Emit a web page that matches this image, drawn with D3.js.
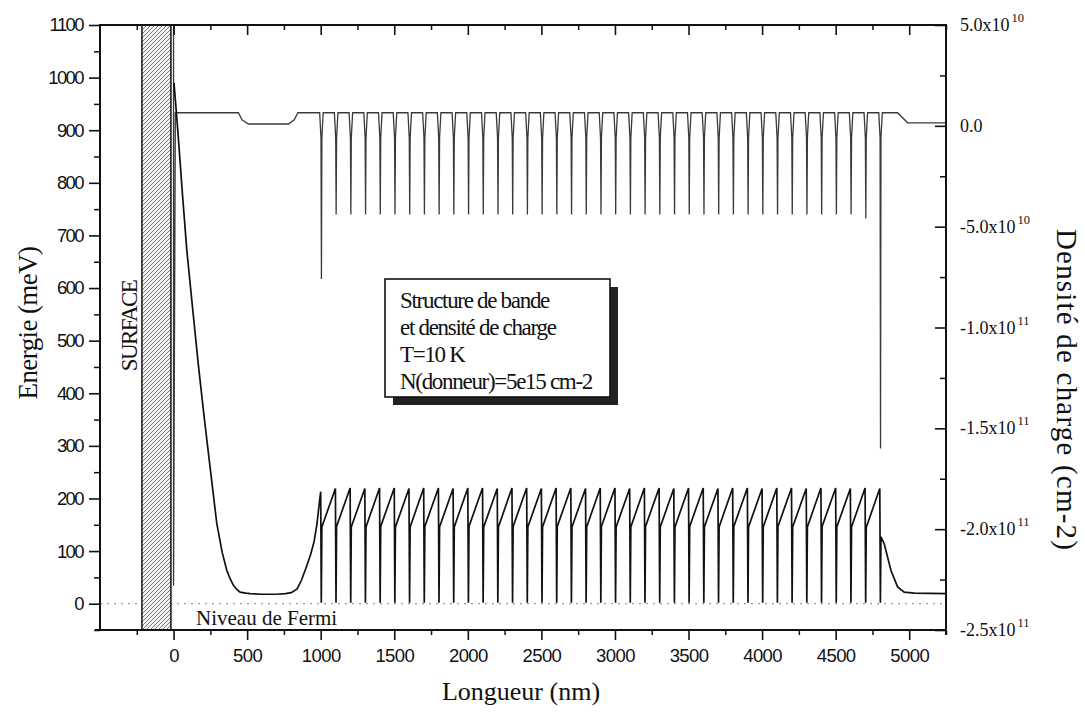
<!DOCTYPE html>
<html><head><meta charset="utf-8">
<script src="https://cdn.jsdelivr.net/npm/d3@7"></script>
<style>
body{margin:0;background:#fff;}
svg{display:block;}
</style>
</head><body>
<svg id="chart" width="1085" height="712"></svg>
<script>
// ---------------- DATA ----------------
// Band structure: surface depletion region before the superlattice
const bandLeftX = [3, 30, 60, 90, 130, 170, 210, 248, 294, 330, 362, 385, 407, 430, 452, 490, 520, 600, 700, 760, 800, 840, 870, 900, 930, 955, 975, 990];
const bandLeftE = [990, 895, 780, 672, 560, 450, 350, 260, 152, 98, 63, 47, 35, 27, 22, 20, 19, 18, 18, 19, 21, 28, 45, 68, 92, 118, 152, 190];
// Superlattice wells (nm) and band energies (meV)
const wellPos = [1005,1105,1205,1305,1405,1505,1605,1705,1805,1905,2005,2105,2205,2305,2405,2505,2605,2705,2805,2905,3005,3105,3205,3305,3405,3505,3605,3705,3805,3905,4005,4105,4205,4305,4405,4505,4605,4705,4805];
const wellPeak = [213,219,220,219,220,220,219,220,220,219,220,220,219,220,220,219,220,220,219,220,220,219,220,220,219,220,220,219,220,220,219,220,220,219,220,220,219,220,219];
const wellShoulder = [146,147,146,146,147,146,146,147,146,146,147,146,146,147,146,146,147,146,146,147,146,146,147,146,146,147,146,146,147,146,146,147,146,146,147,146,146,145,127];
const wellBottom = 2;
// Band after the superlattice
const bandRightX = [4830, 4876, 4921, 4966, 5034, 5250];
const bandRightE = [114, 63, 32, 22, 20, 19];

// Charge density (cm-2)
const chargeLeftX = [0, 0, 12, 441, 465, 509, 781, 820, 845];
const chargeLeftV = [6e10, -2.28e11, 6.5e9, 6.5e9, 3e9, 9e8, 9e8, 3e9, 6.5e9];
const spikeMin = [-7.6e10,-4.4e10,-4.4e10,-4.4e10,-4.4e10,-4.4e10,-4.4e10,-4.4e10,-4.4e10,-4.4e10,-4.4e10,-4.4e10,-4.4e10,-4.4e10,-4.4e10,-4.4e10,-4.4e10,-4.4e10,-4.4e10,-4.4e10,-4.4e10,-4.4e10,-4.4e10,-4.4e10,-4.4e10,-4.4e10,-4.4e10,-4.4e10,-4.4e10,-4.4e10,-4.4e10,-4.4e10,-4.4e10,-4.4e10,-4.4e10,-4.4e10,-4.4e10,-4.6e10,-1.6e11];
const chargePlateau = 6.5e9;
const chargeRightX = [4921, 4989, 5250];
const chargeRightV = [6.5e9, 1.5e9, 1.5e9];

// Surface (hatched) region
const surfaceRange = [-215, -18];

// Ticks
const xMajor = [0,500,1000,1500,2000,2500,3000,3500,4000,4500,5000];
const xMinor = [-250,250,750,1250,1750,2250,2750,3250,3750,4250,4750,5250];
const eMajor = [0,100,200,300,400,500,600,700,800,900,1000,1100];
const eMinor = [-50,50,150,250,350,450,550,650,750,850,950,1050];
const cMajor = [5e10, 0, -5e10, -1e11, -1.5e11, -2e11, -2.5e11];
const cMinor = [2.5e10, -2.5e10, -7.5e10, -1.25e11, -1.75e11, -2.25e11];
const cMantissa = ["5.0", "0.0", "-5.0", "-1.0", "-1.5", "-2.0", "-2.5"];
const cExponent = ["10", "", "10", "11", "11", "11", "11"];

const legendLines = ["Structure de bande", "et densité de charge", "T=10 K", "N(donneur)=5e15 cm-2"];

// ---------------- DRAW ----------------
const svg = d3.select("#chart");
const L = 100, R = 946, T = 25, B = 630;
const x = d3.scaleLinear().domain([-500, 5250]).range([L, R]);
const yE = d3.scaleLinear().domain([-50, 1100]).range([B, T]);
const yC = d3.scaleLinear().domain([-2.5e11, 5e10]).range([B, T]);

const defs = svg.append("defs");
defs.append("clipPath").attr("id", "plotclip").append("rect")
  .attr("x", L).attr("y", T).attr("width", R - L).attr("height", B - T);
const pat = defs.append("pattern").attr("id", "hatch").attr("patternUnits", "userSpaceOnUse")
  .attr("width", 4).attr("height", 4);
pat.append("rect").attr("width", 4).attr("height", 4).attr("fill", "#f2f2f2");
pat.append("path").attr("d", "M-1,1 l2,-2 M0,4 l4,-4 M3,5 l2,-2")
  .attr("stroke", "#555").attr("stroke-width", 0.75);

// Fermi level
svg.append("line").attr("x1", L).attr("x2", R).attr("y1", yE(0)).attr("y2", yE(0))
  .attr("stroke", "#999").attr("stroke-width", 1.2).attr("stroke-dasharray", "2,5");

// Surface hatched rect
svg.append("rect").attr("x", x(surfaceRange[0])).attr("y", T)
  .attr("width", x(surfaceRange[1]) - x(surfaceRange[0])).attr("height", B - T)
  .attr("fill", "url(#hatch)").attr("stroke", "#111").attr("stroke-width", 1.5);

// Build series
const band = bandLeftX.map((d, i) => [d, bandLeftE[i]]);
wellPos.forEach((p, i) => {
  band.push([p - 5, wellPeak[i]]);
  band.push([p - 1, wellBottom]);
  band.push([p + 3, wellShoulder[i]]);
});
bandRightX.forEach((d, i) => band.push([d, bandRightE[i]]));

const charge = chargeLeftX.map((d, i) => [d, chargeLeftV[i]]);
wellPos.forEach((p, i) => {
  charge.push([p - 12, chargePlateau]);
  charge.push([p - 3, -6e9]);
  charge.push([p, spikeMin[i]]);
  charge.push([p + 3, -6e9]);
  charge.push([p + 12, chargePlateau]);
});
chargeRightX.forEach((d, i) => charge.push([d, chargeRightV[i]]));

const gPlot = svg.append("g").attr("clip-path", "url(#plotclip)");
gPlot.append("path").datum(charge)
  .attr("d", d3.line().x(d => x(d[0])).y(d => yC(d[1])))
  .attr("fill", "none").attr("stroke", "#3a3a3a").attr("stroke-width", 1.3);
gPlot.append("path").datum(band)
  .attr("d", d3.line().x(d => x(d[0])).y(d => yE(d[1])))
  .attr("fill", "none").attr("stroke", "#111").attr("stroke-width", 1.7);

// Axes
function styleAxis(g, w) {
  g.select(".domain").remove();
  g.selectAll(".tick line").attr("stroke", "#111").attr("stroke-width", w);
}
const sansFont = "'Liberation Sans', Arial, sans-serif";
const serifFont = "'Liberation Serif', 'Times New Roman', serif";

// bottom
const gxMinor = svg.append("g").attr("transform", `translate(0,${B})`)
  .call(d3.axisBottom(x).tickValues(xMinor).tickSize(5).tickFormat(""));
styleAxis(gxMinor, 1.5);
const gx = svg.append("g").attr("transform", `translate(0,${B})`)
  .call(d3.axisBottom(x).tickValues(xMajor).tickSize(10).tickPadding(9).tickFormat(d => d));
styleAxis(gx, 1.6);
gx.selectAll("text").attr("font-family", sansFont).attr("font-size", 18.5)
  .attr("letter-spacing", "-0.6px").attr("fill", "#111");
// top (ticks inward)
const gtMinor = svg.append("g").attr("transform", `translate(0,${T})`)
  .call(d3.axisBottom(x).tickValues(xMinor).tickSize(5).tickFormat(""));
styleAxis(gtMinor, 1.5);
const gt = svg.append("g").attr("transform", `translate(0,${T})`)
  .call(d3.axisBottom(x).tickValues(xMajor).tickSize(10).tickFormat(""));
styleAxis(gt, 1.6);
// left
const gyMinor = svg.append("g").attr("transform", `translate(${L},0)`)
  .call(d3.axisLeft(yE).tickValues(eMinor).tickSize(6).tickFormat(""));
styleAxis(gyMinor, 1.5);
const gy = svg.append("g").attr("transform", `translate(${L},0)`)
  .call(d3.axisLeft(yE).tickValues(eMajor).tickSize(11).tickPadding(6).tickFormat(d => d));
styleAxis(gy, 1.6);
gy.selectAll("text").attr("font-family", sansFont).attr("font-size", 18.5)
  .attr("letter-spacing", "-1.6px").attr("fill", "#111");
// right (ticks inward)
const grMinor = svg.append("g").attr("transform", `translate(${R},0)`)
  .call(d3.axisLeft(yC).tickValues(cMinor).tickSize(6).tickFormat(""));
styleAxis(grMinor, 1.5);
const gr = svg.append("g").attr("transform", `translate(${R},0)`)
  .call(d3.axisLeft(yC).tickValues(cMajor).tickSize(11).tickFormat(""));
styleAxis(gr, 1.6);
const rl = svg.append("g");
cMajor.forEach((v, i) => {
  const t = rl.append("text").attr("x", R + 14).attr("y", yC(v) + 6)
    .attr("font-family", serifFont).attr("font-size", 18).attr("fill", "#111");
  t.append("tspan").text(cMantissa[i] + (cExponent[i] ? "x10" : ""));
  if (cExponent[i]) t.append("tspan").attr("dy", -9).attr("dx", 2).attr("font-size", 12.5).text(cExponent[i]);
});

// frame
const frame = svg.append("g").attr("stroke", "#111").attr("stroke-width", 2).attr("fill", "none");
frame.append("line").attr("x1", L - 5).attr("x2", R + 1).attr("y1", B).attr("y2", B);
frame.append("line").attr("x1", L).attr("x2", R).attr("y1", T).attr("y2", T);
frame.append("line").attr("x1", L).attr("x2", L).attr("y1", T - 1).attr("y2", B + 1);
frame.append("line").attr("x1", R).attr("x2", R).attr("y1", T - 1).attr("y2", B + 5);

// Titles
svg.append("text").attr("transform", `translate(37,323) rotate(-90)`)
  .attr("text-anchor", "middle").attr("font-family", serifFont).attr("font-size", 27)
  .attr("letter-spacing", "-0.6px").attr("fill", "#111").text("Energie (meV)");
svg.append("text").attr("transform", `translate(1057,390) rotate(90)`)
  .attr("text-anchor", "middle").attr("font-family", serifFont).attr("font-size", 29)
  .attr("letter-spacing", "1.2px").attr("fill", "#111").text("Densité de charge (cm-2)");
svg.append("text").attr("x", 521).attr("y", 700)
  .attr("text-anchor", "middle").attr("font-family", serifFont).attr("font-size", 26)
  .attr("fill", "#111").text("Longueur (nm)");

// Annotations
svg.append("text").attr("transform", `translate(137,326) rotate(-90)`)
  .attr("text-anchor", "middle").attr("font-family", serifFont).attr("font-size", 23)
  .attr("letter-spacing", "-1.6px").attr("fill", "#111").text("SURFACE");
svg.append("text").attr("x", 196).attr("y", 625)
  .attr("font-family", serifFont).attr("font-size", 21).attr("fill", "#111").text("Niveau de Fermi");

// Legend box with shadow
svg.append("rect").attr("x", 393).attr("y", 287).attr("width", 225).attr("height", 118).attr("fill", "#222");
svg.append("rect").attr("x", 385).attr("y", 279).attr("width", 225).attr("height", 118)
  .attr("fill", "#fff").attr("stroke", "#111").attr("stroke-width", 1.6);
legendLines.forEach((s, i) => {
  svg.append("text").attr("x", 400).attr("y", 308 + i * 27)
    .attr("font-family", serifFont).attr("font-size", 23).attr("letter-spacing", "-1.3px")
    .attr("fill", "#111").text(s);
});
</script>
</body></html>
